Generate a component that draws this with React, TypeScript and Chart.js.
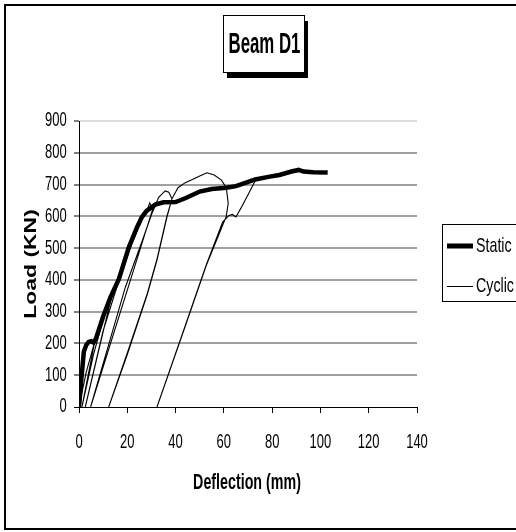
import React, { useEffect, useRef } from "react";
import { Chart, registerables } from "chart.js";

Chart.register(...registerables);

const chartTitle = "Beam D1";
const xAxisTitle = "Deflection (mm)";
const yAxisTitle = "Load (KN)";
const seriesNames = ["Static", "Cyclic"];
const xTickValues = [0, 20, 40, 60, 80, 100, 120, 140];
const yTickValues = [0, 100, 200, 300, 400, 500, 600, 700, 800, 900];

const staticDeflection = [0, 1, 2, 3, 4, 5, 6, 7, 10, 13, 16.5, 20.6, 24, 26, 28, 31.6, 35, 40, 44, 50, 55, 61, 65, 68, 73, 79, 83, 88, 91, 93, 97, 103];
const staticLoad = [0, 90, 174, 195, 205, 207, 203, 215, 285, 345, 402, 502, 565, 597, 617, 637, 644, 645, 657, 678, 686, 690, 695, 703, 716, 725, 730, 741, 746, 741, 739, 738];

const cyclicDeflection = [
  0, 3, 6.5, 1.2,
  6, 10, 14, 2.6,
  10, 17, 22, 26, 28, 29.3, 30.5, 4.8,
  19.2, 26.1, 30, 33, 35.7, 37.2, 38.5, 36.4, 32.3, 28.2, 20, 12.3,
  20, 28.2, 32.3, 36.4, 38.5, 41, 44, 47, 50, 53, 56, 59, 61, 61.8, 61, 52.7, 44, 32.3,
  44, 52.7, 59.5, 62, 63.5, 65, 67, 70, 73, 76, 80, 85, 90,
];
const cyclicLoad = [
  0, 110, 205, 0,
  165, 275, 365, 0,
  240, 410, 515, 590, 615, 642, 622, 0,
  377, 521, 605, 660, 680, 676, 655, 597, 462, 352, 165, 0,
  170, 355, 465, 600, 655, 690, 706, 716, 727, 737, 730, 714, 690, 641, 600, 445, 254, 0,
  256, 447, 582, 602, 606, 598, 625, 668, 712, 720, 728, 737, 744,
];

const FONT = "'Liberation Sans', Arial, Helvetica, sans-serif";
const SY = 1.4;

type TxtOpts = { size: number; bold?: boolean; sx?: number; sy?: number; align?: CanvasTextAlign; rotate?: boolean };

function txt(ctx: CanvasRenderingContext2D, s: string, x: number, y: number, o: TxtOpts) {
  ctx.save();
  ctx.translate(x, y);
  ctx.scale(1, o.sy ?? SY);
  if (o.rotate) ctx.rotate(-Math.PI / 2);
  ctx.scale(o.sx ?? 1, 1);
  ctx.font = `${o.bold ? "bold " : ""}${o.size}px ${FONT}`;
  ctx.textAlign = o.align ?? "center";
  ctx.textBaseline = "middle";
  ctx.fillStyle = "#000";
  ctx.fillText(s, 0, 0);
  ctx.restore();
}

const decorPlugin = {
  id: "decor",
  afterDraw(chart: any) {
    const { ctx, chartArea: ca, scales } = chart;
    const xs = scales.x;
    const ys = scales.y;
    ctx.save();
    // outer frame
    ctx.strokeStyle = "#000";
    ctx.lineWidth = 2;
    ctx.strokeRect(5, 5, 540, 524);

    // tick labels
    yTickValues.forEach((v) => txt(ctx, String(v), ca.left - 12.3, ys.getPixelForValue(v), { size: 14, sx: 0.93, align: "right" }));
    xTickValues.forEach((v) => txt(ctx, String(v), xs.getPixelForValue(v), ca.bottom + 36, { size: 14, sx: 0.93 }));

    // axis titles
    txt(ctx, xAxisTitle, (ca.left + ca.right) / 2 - 1, ca.bottom + 76, { size: 15.5, bold: true, sx: 0.92, sy: 1.45 });
    txt(ctx, yAxisTitle, 31.7, (ca.top + ca.bottom) / 2, { size: 17, bold: true, rotate: true, sy: 1.35 });

    // title box with shadow
    const bx = 223, by = 15, bw = 81, bh = 57;
    ctx.fillStyle = "#000";
    ctx.fillRect(bx + 4, by + 6, bw, bh);
    ctx.fillStyle = "#fff";
    ctx.fillRect(bx, by, bw, bh);
    ctx.strokeStyle = "#000";
    ctx.lineWidth = 1;
    ctx.strokeRect(bx + 0.5, by + 0.5, bw, bh);
    txt(ctx, chartTitle, bx + bw / 2 + 1, by + 30, { size: 20.5, bold: true, sx: 0.82, sy: 1.45 });

    // legend box
    const lx = 442;
    const lt = ca.top + 103;
    const lb = ca.top + 180;
    ctx.fillStyle = "#fff";
    ctx.fillRect(lx, lt, 120, lb - lt);
    ctx.strokeStyle = "#000";
    ctx.lineWidth = 1;
    ctx.strokeRect(lx + 0.5, lt + 0.5, 120, lb - lt);
    const y1 = ca.top + 125;
    const y2 = ca.top + 165;
    ctx.beginPath();
    ctx.lineWidth = 5;
    ctx.moveTo(447, y1);
    ctx.lineTo(473, y1);
    ctx.stroke();
    ctx.beginPath();
    ctx.lineWidth = 1;
    ctx.moveTo(447, y2 + 0.5);
    ctx.lineTo(473, y2 + 0.5);
    ctx.stroke();
    txt(ctx, seriesNames[0], 476, y1, { size: 15, sx: 0.95, align: "left" });
    txt(ctx, seriesNames[1], 476, y2, { size: 15, sx: 0.95, align: "left" });
    ctx.restore();
  },
};

export default function App() {
  const ref = useRef<HTMLCanvasElement>(null);
  useEffect(() => {
    const canvas = ref.current!;
    const pts = (xs: number[], ys: number[]) => xs.map((x, i) => ({ x, y: ys[i] }));
    const chart = new Chart(canvas, {
      type: "scatter",
      data: {
        datasets: [
          {
            label: seriesNames[0],
            data: pts(staticDeflection, staticLoad),
            showLine: true,
            borderColor: "#000",
            backgroundColor: "#000",
            borderWidth: 4.5,
            borderCapStyle: "butt",
            pointRadius: 0,
            tension: 0,
          },
          {
            label: seriesNames[1],
            data: pts(cyclicDeflection, cyclicLoad),
            showLine: true,
            borderColor: "#000",
            backgroundColor: "#000",
            borderWidth: 1.1,
            pointRadius: 0,
            tension: 0,
          },
        ],
      },
      options: {
        animation: false,
        responsive: true,
        maintainAspectRatio: false,
        devicePixelRatio: 1,
        layout: { padding: { left: 10, right: 99, top: 121, bottom: 65 } },
        plugins: { legend: { display: false }, tooltip: { enabled: false }, title: { display: false } },
        scales: {
          x: {
            type: "linear",
            min: 0,
            max: 140,
            ticks: { stepSize: 20, display: false },
            grid: { drawOnChartArea: false, drawTicks: true, tickLength: 6, tickColor: "#000", lineWidth: 1, color: "#000" },
            border: { display: true, color: "#000", width: 1 },
            afterFit: (s: any) => { s.height = 60; },
          },
          y: {
            min: 0,
            max: 900,
            ticks: { stepSize: 100, display: false },
            grid: {
              color: (c: any) => (c.tick && c.tick.value === 900 ? "#dcdcdc" : c.tick && c.tick.value === 0 ? "#000" : "#a0a0a0"),
              lineWidth: (c: any) => (c.tick && c.tick.value === 0 ? 1 : 2),
              tickColor: "#000",
              tickLength: 5,
              tickWidth: 1,
            },
            border: { display: true, color: "#000", width: 1 },
            afterFit: (s: any) => { s.width = 69; },
          },
        },
      },
      plugins: [decorPlugin],
    });
    return () => chart.destroy();
  }, []);
  return (
    <div style={{ position: "absolute", left: 0, top: 0, width: 516, height: 532, background: "#fff" }}>
      <canvas ref={ref} />
    </div>
  );
}
